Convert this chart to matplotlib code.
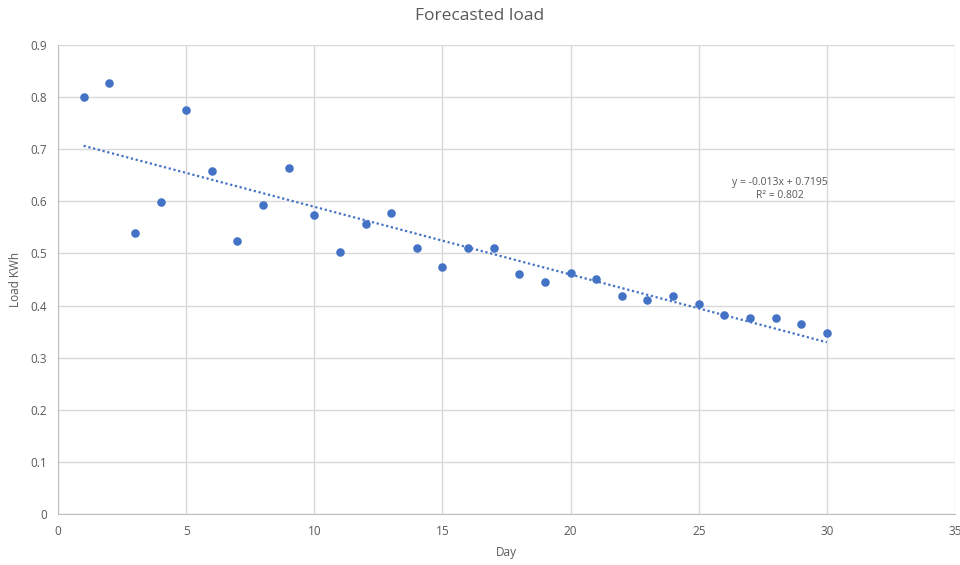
import matplotlib
matplotlib.use('Agg')
import matplotlib.pyplot as plt
import numpy as np

# data
days = np.arange(1, 31)
load = [0.800, 0.827, 0.539, 0.599, 0.775, 0.658, 0.524, 0.593, 0.664, 0.574,
        0.503, 0.557, 0.578, 0.511, 0.474, 0.511, 0.511, 0.461, 0.445, 0.463,
        0.451, 0.418, 0.411, 0.418, 0.403, 0.382, 0.376, 0.376, 0.365, 0.347]
slope, intercept = -0.013, 0.7195
eq_label = 'y = -0.013x + 0.7195\nR² = 0.802'

blue = '#4472C4'
txt = '#595959'
grid_c = '#D9D9D9'

plt.rcParams['font.family'] = ['Open Sans', 'DejaVu Sans']

fig = plt.figure(figsize=(9.6, 5.65), dpi=100)
ax = fig.add_axes([0.0604, 0.0903, 0.9344, 0.8301])

# trendline
xt = np.array([days[0], days[-1]])
ax.plot(xt, slope * xt + intercept, ls=(0, (1, 1.2)), lw=1.6, color=blue, zorder=2)
ax.scatter(days, load, s=38, color=blue, zorder=3, linewidths=0)

ax.set_xlim(0, 35)
ax.set_ylim(0, 0.9)
ax.set_xticks(np.arange(0, 36, 5))
ax.set_yticks(np.round(np.arange(0, 0.91, 0.1), 1))
ax.set_yticklabels(['0'] + [f'{v:.1f}' for v in np.arange(0.1, 0.91, 0.1)])
ax.grid(True, color=grid_c, lw=1)
ax.set_axisbelow(True)
for s in ['top', 'right']:
    ax.spines[s].set_visible(False)
for s in ['left', 'bottom']:
    ax.spines[s].set_color('#BFBFBF')
ax.tick_params(length=0, colors=txt, labelsize=8.5, pad=8)

ax.set_xlabel('Day', color=txt, fontsize=8.5, labelpad=6)
ax.set_ylabel('Load KWh', color=txt, fontsize=8.5, labelpad=6)
fig.suptitle('Forecasted load', color=txt, fontsize=12.5, y=0.985)

ax.text(28.15, 0.624, eq_label, ha='center', va='center', color=txt,
        fontsize=7.5, linespacing=1.2)

fig.savefig('out.png', dpi=100)
